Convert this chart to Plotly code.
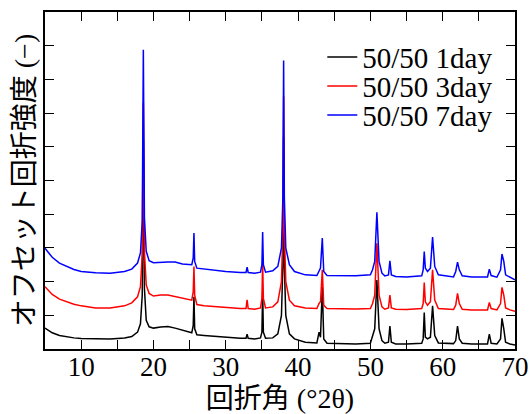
import plotly.graph_objects as go

# 2θ positions (degrees) at which the offset intensities were read
two_theta = [
    5, 6, 7, 8, 9, 10, 12, 14, 16, 17,
    17.8, 18.2, 18.45, 18.6, 18.75, 19.0, 19.4, 20, 21, 22,
    23, 24, 25.3, 25.5, 25.6, 25.7, 26.0, 27, 28, 30,
    32, 32.8, 32.95, 33.1, 34, 34.8, 35.0, 35.1, 35.2, 35.5,
    36.5, 37.2, 37.7, 37.9, 38.0, 38.1, 38.3, 38.8, 39.5, 41,
    42.6, 42.9, 43.1, 43.35, 43.55, 44, 46, 48, 50.0, 50.3,
    50.6, 50.9, 51.2, 51.6, 52.0, 52.5, 52.7, 52.9, 53.5, 55,
    57.1, 57.3, 57.45, 57.6, 57.9, 58.3, 58.6, 58.9, 59.4, 61.5,
    61.8, 62.05, 62.3, 62.7, 64, 66.2, 66.45, 66.7, 67.5, 68.0,
    68.2, 68.45, 68.7, 69.3, 70,
]

# offset intensities (arbitrary units, as plotted)
y_1day = [
    0.62, 0.48, 0.40, 0.36, 0.33, 0.31, 0.30, 0.30, 0.33, 0.37,
    0.50, 0.75, 1.60, 6.20, 1.80, 0.85, 0.66, 0.62, 0.65, 0.67,
    0.62, 0.55, 0.48, 0.70, 1.55, 0.60, 0.42, 0.40, 0.38, 0.35,
    0.32, 0.32, 0.44, 0.32, 0.30, 0.33, 0.50, 1.70, 0.50, 0.32,
    0.33, 0.45, 1.00, 2.50, 6.30, 2.50, 1.00, 0.45, 0.30, 0.20,
    0.18, 0.50, 0.35, 1.84, 0.30, 0.17, 0.15, 0.15, 0.17, 0.37,
    0.60, 2.05, 0.60, 0.25, 0.17, 0.20, 0.68, 0.20, 0.15, 0.15,
    0.17, 0.30, 1.08, 0.35, 0.30, 0.35, 1.28, 0.40, 0.18, 0.16,
    0.25, 0.68, 0.30, 0.17, 0.15, 0.15, 0.44, 0.17, 0.15, 0.30,
    0.91, 0.60, 0.20, 0.15, 0.12,
]

y_3day = [
    1.85, 1.62, 1.48, 1.40, 1.33, 1.28, 1.22, 1.22, 1.28, 1.37,
    1.55, 1.85, 2.80, 7.30, 2.90, 1.90, 1.65, 1.57, 1.60, 1.60,
    1.55, 1.50, 1.45, 1.70, 2.45, 1.60, 1.32, 1.28, 1.26, 1.24,
    1.20, 1.20, 1.46, 1.20, 1.18, 1.22, 1.50, 2.59, 1.50, 1.22,
    1.25, 1.40, 2.00, 3.50, 7.50, 3.50, 2.00, 1.45, 1.28, 1.22,
    1.20, 1.35, 1.40, 2.35, 1.30, 1.20, 1.19, 1.19, 1.20, 1.35,
    1.60, 3.14, 1.60, 1.25, 1.18, 1.22, 1.60, 1.22, 1.18, 1.17,
    1.20, 1.35, 1.97, 1.40, 1.30, 1.40, 2.35, 1.45, 1.20, 1.17,
    1.30, 1.65, 1.35, 1.18, 1.16, 1.16, 1.38, 1.20, 1.16, 1.35,
    1.83, 1.60, 1.22, 1.16, 1.12,
]

y_7day = [
    2.99, 2.72, 2.55, 2.45, 2.36, 2.30, 2.26, 2.25, 2.30, 2.37,
    2.55, 2.85, 3.80, 8.88, 3.90, 2.90, 2.62, 2.56, 2.58, 2.58,
    2.58, 2.52, 2.50, 2.70, 3.44, 2.60, 2.40, 2.37, 2.34, 2.30,
    2.27, 2.27, 2.43, 2.27, 2.25, 2.28, 2.50, 3.47, 2.50, 2.28,
    2.32, 2.45, 3.00, 4.50, 8.56, 4.50, 3.00, 2.50, 2.30, 2.20,
    2.18, 2.30, 2.40, 3.29, 2.30, 2.18, 2.17, 2.17, 2.20, 2.35,
    2.60, 4.06, 2.60, 2.25, 2.17, 2.20, 2.62, 2.20, 2.15, 2.14,
    2.17, 2.35, 2.89, 2.40, 2.30, 2.40, 3.32, 2.45, 2.20, 2.14,
    2.30, 2.58, 2.35, 2.17, 2.14, 2.14, 2.37, 2.18, 2.13, 2.35,
    2.82, 2.60, 2.20, 2.12, 2.05,
]

series_names = ["50/50 1day", "50/50 3day", "50/50 7day"]
series_colors = ["#000000", "#ff0000", "#0000ff"]
x_title = "回折角 (°2θ)"
y_title = "オフセット回折強度 (−)"

FONT = "Liberation Serif, 'Times New Roman', 'Noto Sans CJK JP', serif"

legend_ids = ["legend", "legend2", "legend3"]
legend_y = [0.866, 0.780, 0.694]

fig = go.Figure()
for name, ys, col, lg in zip(series_names, [y_1day, y_3day, y_7day], series_colors, legend_ids):
    fig.add_trace(go.Scatter(x=two_theta, y=ys, mode="lines", name=name, legend=lg,
                             line=dict(color=col, width=1.5)))

axis_common = dict(
    showline=True, linecolor="black", linewidth=1.5, mirror="ticks",
    ticks="inside", ticklen=9, tickwidth=1.2, tickcolor="black",
    showgrid=False, zeroline=False,
)

legend_style = dict(x=0.59, xanchor="left", yanchor="middle",
                    bgcolor="rgba(0,0,0,0)", font=dict(size=29))

fig.update_layout(
    width=531, height=414,
    margin=dict(l=45, r=16, t=12, b=65),
    paper_bgcolor="white", plot_bgcolor="white",
    font=dict(family=FONT, size=27, color="black"),
    showlegend=True,
    legend=dict(y=legend_y[0], **legend_style),
    legend2=dict(y=legend_y[1], **legend_style),
    legend3=dict(y=legend_y[2], **legend_style),
    xaxis=dict(range=[5, 70], tick0=0, dtick=10, ticklabelstandoff=-7,
               minor=dict(dtick=5, ticks="inside", ticklen=9, tickcolor="black", tickwidth=1.2),
               title=dict(text=x_title, font=dict(size=28), standoff=37),
               automargin=False, **axis_common),
    yaxis=dict(range=[0, 10], tick0=0, dtick=1, showticklabels=False,
               title=dict(text=y_title, font=dict(size=28), standoff=0),
               automargin=False, **axis_common),
)

fig.write_html("out.html", config={"displayModeBar": False},
               post_script="document.body.style.margin='0';")
